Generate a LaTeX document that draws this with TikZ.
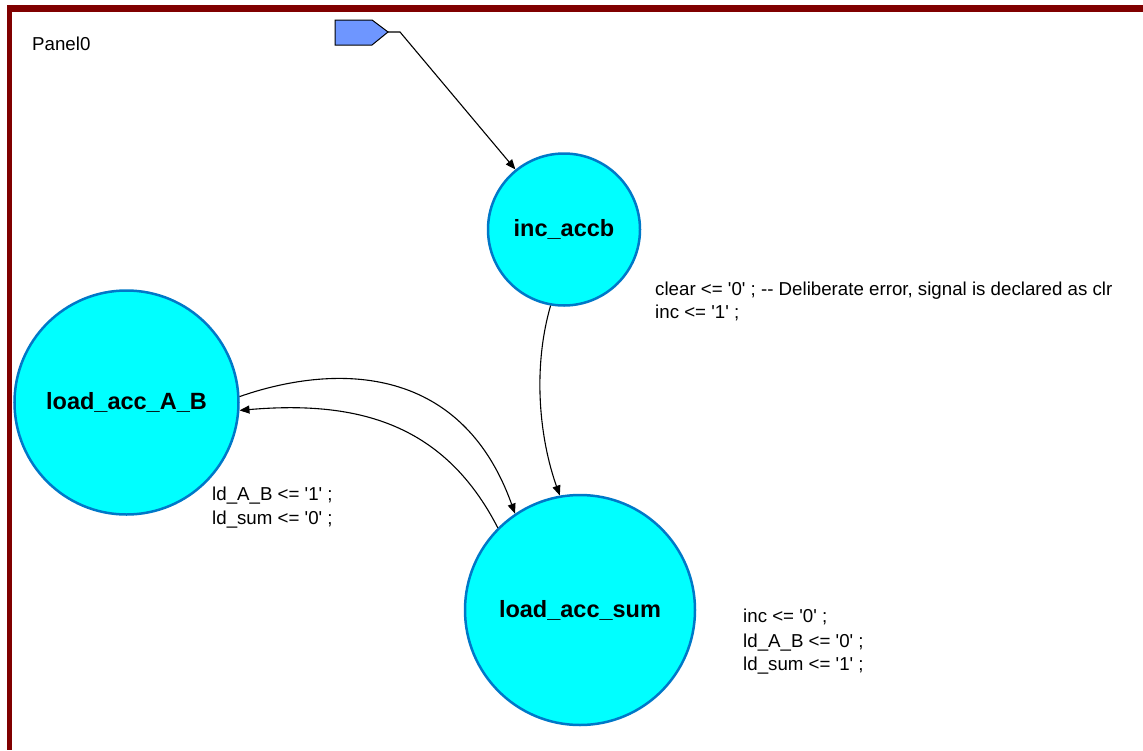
\documentclass[tikz,border=0pt]{standalone}
\usepackage{fontspec}
\setmainfont{Liberation Sans}[Ligatures=TeXOff]
\usetikzlibrary{arrows.meta}
\definecolor{framered}{RGB}{128,0,0}
\definecolor{statefill}{RGB}{0,255,255}
\definecolor{stateline}{RGB}{0,120,200}
\definecolor{startfill}{RGB}{110,150,255}
\tikzset{
  state/.style={circle, draw=stateline, line width=2.5pt, fill=statefill, inner sep=0pt,
    font=\fontsize{23.5}{27}\selectfont\bfseries},
  lbl/.style={anchor=base west, inner sep=0pt, font=\fontsize{18.7}{23}\selectfont},
  trans/.style={draw=black, line width=1.1pt, -{Triangle[length=10pt,width=8pt]}},
}
\begin{document}
\begin{tikzpicture}[x=1pt,y=-1pt]
\useasboundingbox (0,0) rectangle (1143,750);
\fill[white] (0,0) rectangle (1143,750);
% frame
\fill[framered] (7,5) rectangle (1143,12);
\fill[framered] (7,5) rectangle (12,750);
\node[lbl] (panel) at (32,50) {Panel0};
% start marker
\draw[fill=startfill, line width=1pt] (335,20) -- (372,20) -- (388,32) -- (372,45) -- (335,45) -- cycle;
\coordinate (s) at (388,32);
\coordinate (sb) at (400,32);
% states
\node[state, minimum size=152pt] (inc) at (564,229.5) {inc\_accb};
\node[state, minimum size=224pt] (ab) at (126.5,402.5) {load\_acc\_A\_B};
\node[state, minimum size=230pt] (sum) at (580,610) {load\_acc\_sum};
% transitions
\draw[trans] (s) -- (sb) -- (inc.129.5);
\draw[trans] (inc.260) .. controls (532,370) and (540,440) .. (sum.100);
\draw[trans] (ab.3) .. controls (330,365) and (460,360) .. (sum.124);
\draw[trans] (sum.135) .. controls (445,425) and (360,400) .. (ab.-4);
% actions
\node[lbl] (a1) at (655,295) {clear <= '0' ; -- Deliberate error, signal is declared as clr};
\node[lbl] (a2) at (655,318) {inc <= '1' ;};
\node[lbl] (b1) at (212,500) {ld\_A\_B <= '1' ;};
\node[lbl] (b2) at (212,524) {ld\_sum <= '0' ;};
\node[lbl] (c1) at (743,622) {inc <= '0' ;};
\node[lbl] (c2) at (743,647) {ld\_A\_B <= '0' ;};
\node[lbl] (c3) at (743,670) {ld\_sum <= '1' ;};
\end{tikzpicture}
\end{document}
